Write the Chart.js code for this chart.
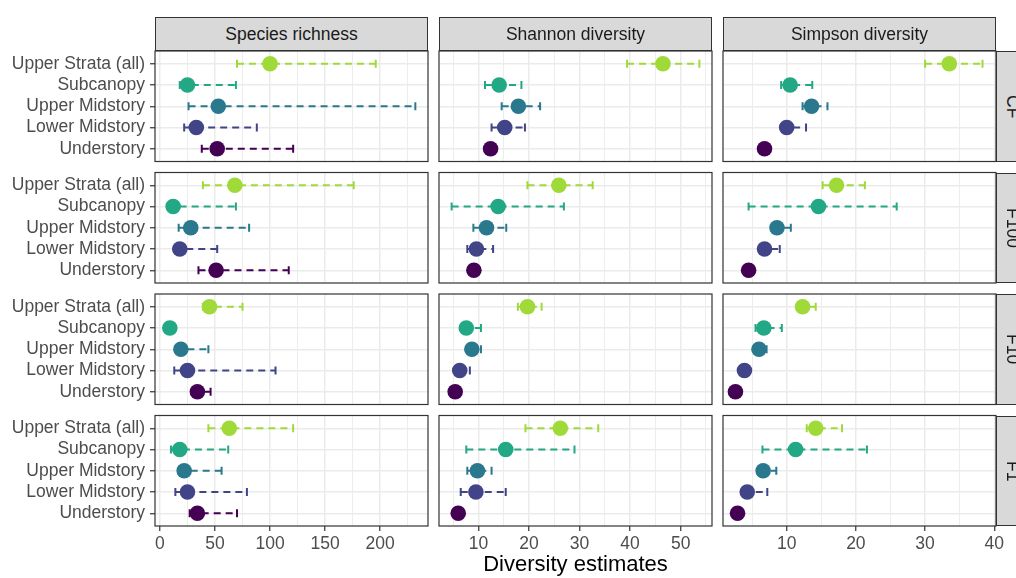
<!DOCTYPE html>
<html lang="en">
<head>
<meta charset="UTF-8">
<title>Diversity estimates by stratum</title>
<script src="https://cdn.jsdelivr.net/npm/chart.js"></script>
<style>
  body {
    margin: 0;
    width: 1016px;
    height: 578px;
    overflow: hidden;
    position: relative;
    background: #ffffff;
    font-family: "Liberation Sans", Arial, sans-serif;
  }
  canvas { position: absolute; left: 0; top: 0; }
  .strip {
    position: absolute;
    box-sizing: border-box;
    background: #d9d9d9;
    border: 1px solid #333333;
    color: #1a1a1a;
    font-size: 17.5px;
    display: flex;
    align-items: center;
    justify-content: center;
  }
  .strip.side { writing-mode: vertical-rl; }
</style>
</head>
<body>
<script>
// categories (top to bottom), facets and colours
const strata = ['Upper Strata (all)', 'Subcanopy', 'Upper Midstory', 'Lower Midstory', 'Understory'];
const metrics = ['Species richness', 'Shannon diversity', 'Simpson diversity'];
const sites = ['CF', 'F100', 'F10', 'F1'];
const strataColors = ['#a0da39', '#22a884', '#2a788e', '#414487', '#440154'];

// one row per site, one value per stratum
const richnessEst = [
  [100, 25, 53, 33, 52],
  [68, 12, 28, 18, 51],
  [45, 9, 19, 25, 34],
  [63, 18, 22, 25, 34]
];
const richnessLow = [
  [70, 18, 26, 22, 38],
  [39, 7, 17, 13, 35],
  [39, 6.8, 14, 13, 29],
  [44, 10, 17, 14, 27]
];
const richnessHigh = [
  [196, 69, 232, 88, 121],
  [176, 69, 81, 52, 117],
  [75, 12, 44, 105, 46],
  [121, 62, 56, 79, 70]
];

const shannonEst = [
  [46.5, 14.1, 17.9, 15.2, 12.4],
  [25.9, 13.9, 11.6, 9.6, 9.1],
  [19.7, 7.6, 8.7, 6.3, 5.4],
  [26.2, 15.4, 9.8, 9.5, 6.0]
];
const shannonLow = [
  [39.4, 11.3, 14.6, 12.6, 11.6],
  [19.7, 4.7, 9.0, 7.8, 8.5],
  [17.8, 6.9, 8.0, 5.8, 5.0],
  [19.3, 7.6, 7.8, 6.5, 5.6]
];
const shannonHigh = [
  [53.7, 18.5, 22.2, 19.2, 13.2],
  [32.6, 26.9, 15.5, 12.9, 9.7],
  [22.5, 10.5, 10.5, 8.3, 5.9],
  [33.7, 29.0, 12.6, 15.4, 6.5]
];

const simpsonEst = [
  [33.5, 10.5, 13.6, 10.0, 6.8],
  [17.2, 14.6, 8.6, 6.8, 4.5],
  [12.3, 6.7, 6.0, 3.9, 2.6],
  [14.2, 11.3, 6.6, 4.3, 2.9]
];
const simpsonLow = [
  [30.0, 9.2, 12.3, 9.2, 6.3],
  [15.2, 4.5, 7.8, 6.0, 4.1],
  [11.5, 5.5, 5.4, 3.5, 2.6],
  [12.9, 6.5, 6.0, 3.8, 2.6]
];
const simpsonHigh = [
  [38.3, 13.7, 15.9, 12.8, 7.3],
  [21.3, 25.9, 10.6, 9.0, 4.9],
  [14.2, 9.3, 7.1, 4.4, 3.0],
  [18.0, 21.6, 8.5, 7.2, 3.3]
];

// tick labels per column (major labelled, minor only gridlines)
const richnessTicks = [0, 50, 100, 150, 200];
const richnessMinor = [25, 75, 125, 175, 225];
const shannonTicks = [10, 20, 30, 40, 50];
const shannonMinor = [5, 15, 25, 35, 45, 55];
const simpsonTicks = [10, 20, 30, 40];
const simpsonMinor = [5, 15, 25, 35];

// ---- layout ----
const W = 1016, H = 578;
const colLeft = [155, 439, 723], colWidth = 273;
const rowTop = [51, 172.5, 294, 415.5], rowHeight = 110.5;
const xRange = [[-4.5, 243.5], [2.2, 56.2], [0.8, 40.25]];

const estimates = [richnessEst, shannonEst, simpsonEst];
const lows = [richnessLow, shannonLow, simpsonLow];
const highs = [richnessHigh, shannonHigh, simpsonHigh];
const majorTicks = [richnessTicks, shannonTicks, simpsonTicks];
const minorTicks = [richnessMinor, shannonMinor, simpsonMinor];

Chart.defaults.font.family = '"Liberation Sans", Arial, sans-serif';

const panelBorder = {
  id: 'panelBorder',
  afterDraw(chart) {
    const a = chart.chartArea, ctx = chart.ctx;
    ctx.save();
    ctx.strokeStyle = '#333333';
    ctx.lineWidth = 1.2;
    ctx.strokeRect(a.left, a.top, a.right - a.left, a.bottom - a.top);
    ctx.restore();
  }
};

function makePanel(r, c) {
  const est = estimates[c][r], lo = lows[c][r], hi = highs[c][r];
  const major = majorTicks[c];
  const allTicks = major.concat(minorTicks[c]).sort((a, b) => a - b);
  const isLeft = c === 0;
  const isBottom = r === sites.length - 1;
  const panelBottom = rowTop[r] + rowHeight;

  const canvas = document.createElement('canvas');
  canvas.width = W;
  canvas.height = H;
  document.body.appendChild(canvas);

  // points first so they are drawn on top of the error bars
  const datasets = [{
    data: est.map((v, i) => ({ x: v, y: i })),
    showLine: false,
    pointRadius: 7.8,
    pointBackgroundColor: strataColors,
    pointBorderWidth: 0
  }];
  strata.forEach((s, i) => {
    datasets.push({
      data: [{ x: lo[i], y: i }, { x: hi[i], y: i }],
      showLine: true,
      borderColor: strataColors[i],
      borderWidth: 2,
      borderDash: [7, 5],
      pointStyle: 'line',
      pointRotation: 90,
      pointRadius: 4,
      pointBorderColor: strataColors[i],
      pointBorderWidth: 2
    });
  });

  new Chart(canvas, {
    type: 'scatter',
    data: { datasets },
    options: {
      responsive: false,
      animation: false,
      events: [],
      layout: {
        padding: {
          left: isLeft ? 0 : colLeft[c],
          right: W - colLeft[c] - colWidth,
          top: rowTop[r],
          bottom: isBottom ? 0 : H - panelBottom
        }
      },
      plugins: { legend: { display: false }, tooltip: { enabled: false } },
      scales: {
        x: {
          type: 'linear',
          min: xRange[c][0],
          max: xRange[c][1],
          afterBuildTicks: s => { s.ticks = allTicks.map(v => ({ value: v })); },
          afterFit: s => { s.height = isBottom ? H - panelBottom : 0; },
          border: { display: false },
          grid: {
            color: '#ebebeb',
            lineWidth: ctx => major.includes(ctx.tick.value) ? 1.5 : 0.9,
            drawTicks: isBottom,
            tickLength: 5,
            tickWidth: 1.2,
            tickColor: ctx => major.includes(ctx.tick.value) ? '#333333' : 'rgba(0,0,0,0)'
          },
          ticks: {
            display: isBottom,
            autoSkip: false,
            minRotation: 0,
            maxRotation: 0,
            padding: 3,
            color: '#4d4d4d',
            font: { size: 17.5 },
            callback: v => major.includes(v) ? String(v) : ''
          },
          title: {
            display: isBottom && c === 1,
            text: 'Diversity estimates',
            color: '#000000',
            font: { size: 22 },
            padding: 0
          }
        },
        y: {
          type: 'linear',
          reverse: true,
          min: -0.6,
          max: strata.length - 0.4,
          afterBuildTicks: s => { s.ticks = strata.map((name, i) => ({ value: i })); },
          afterFit: s => { s.width = isLeft ? colLeft[0] : 0; },
          border: { display: false },
          grid: {
            color: '#ebebeb',
            lineWidth: 1.5,
            drawTicks: isLeft,
            tickLength: 5,
            tickWidth: 1.2,
            tickColor: '#333333'
          },
          ticks: {
            display: isLeft,
            autoSkip: false,
            padding: 5,
            color: '#4d4d4d',
            font: { size: 17.5 },
            callback: v => strata[v]
          }
        }
      }
    },
    plugins: [panelBorder]
  });
}

sites.forEach((site, r) => metrics.forEach((m, c) => makePanel(r, c)));

// facet strips
metrics.forEach((m, c) => {
  const d = document.createElement('div');
  d.className = 'strip';
  d.style.left = colLeft[c] + 'px';
  d.style.top = '17px';
  d.style.width = colWidth + 'px';
  d.style.height = (rowTop[0] - 17) + 'px';
  d.textContent = m;
  document.body.appendChild(d);
});
sites.forEach((s, r) => {
  const d = document.createElement('div');
  d.className = 'strip side';
  d.style.left = (colLeft[2] + colWidth) + 'px';
  d.style.top = rowTop[r] + 'px';
  d.style.width = '33px';
  d.style.height = rowHeight + 'px';
  d.textContent = s;
  document.body.appendChild(d);
});
</script>
</body>
</html>
